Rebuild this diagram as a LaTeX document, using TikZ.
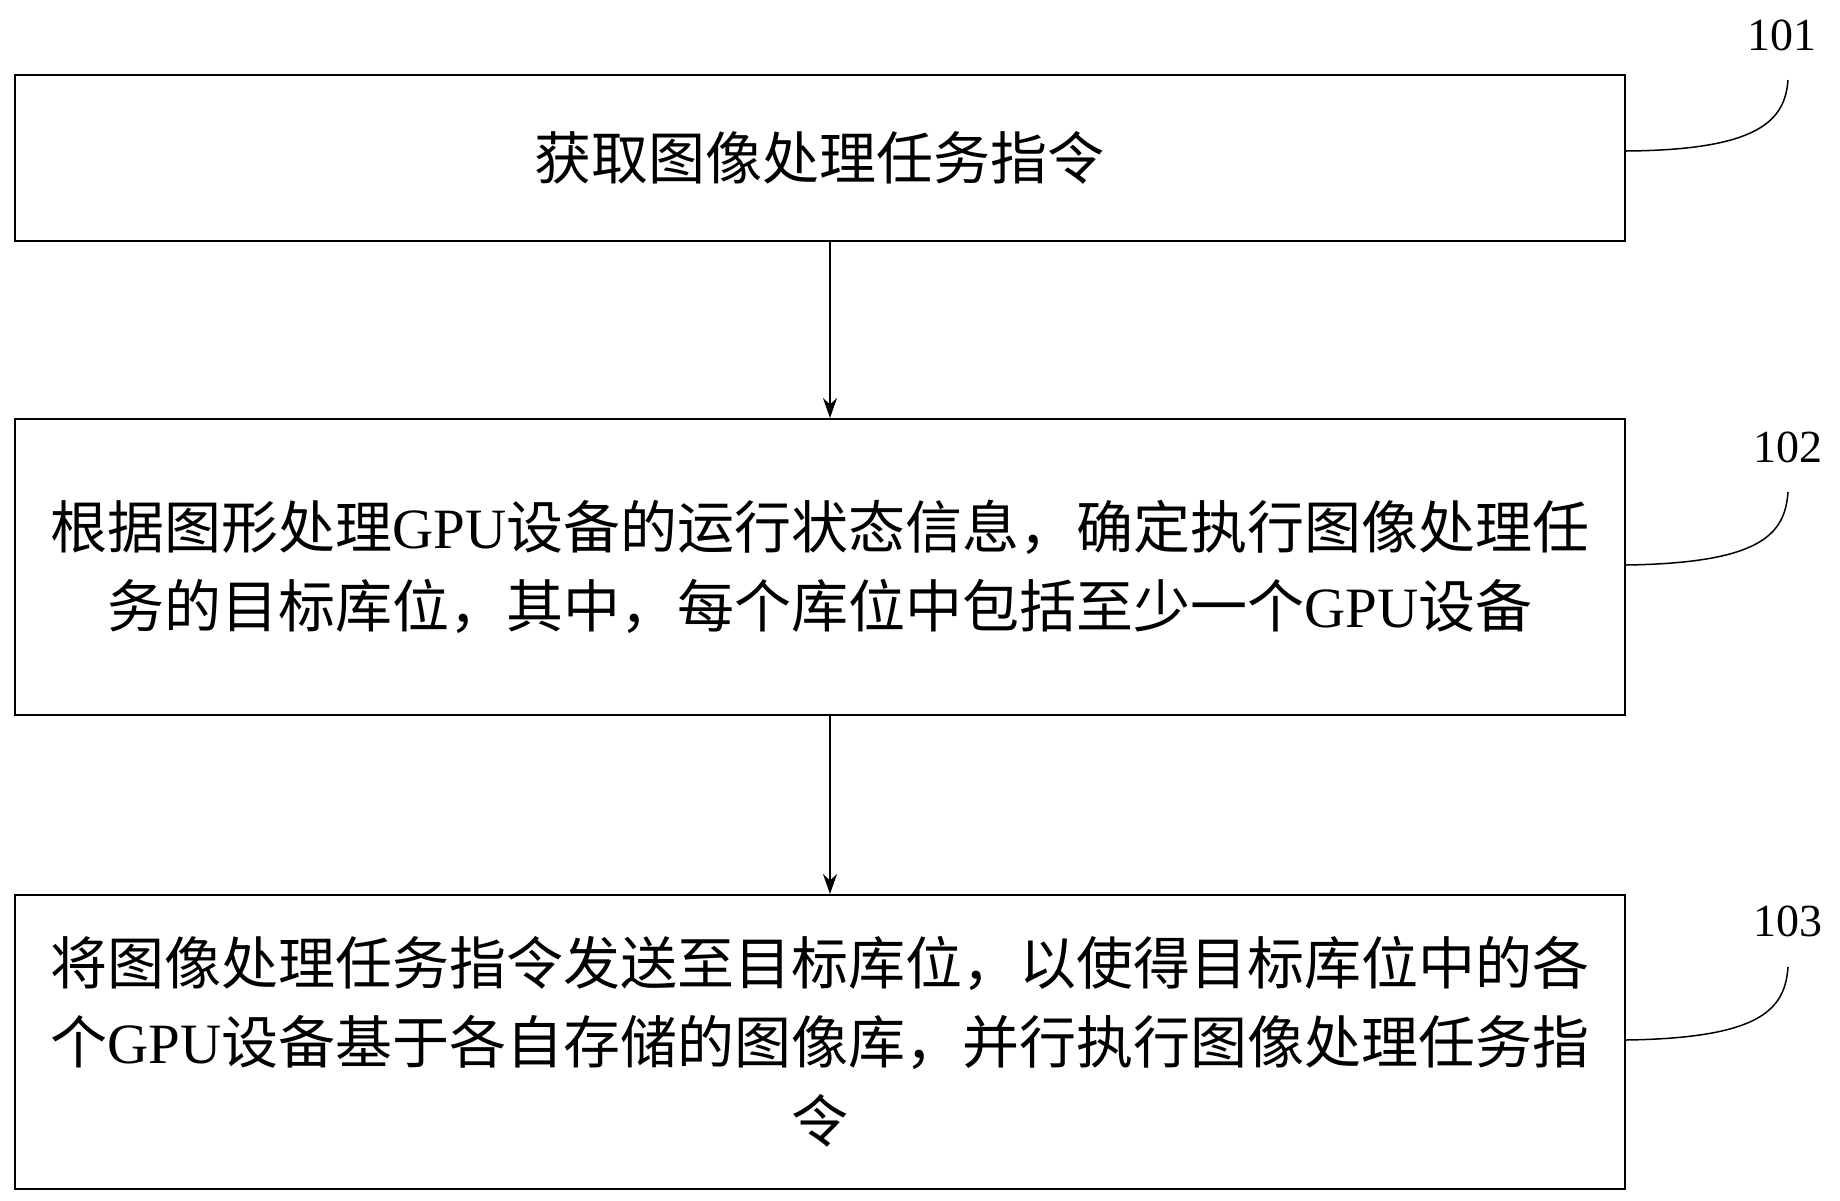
\documentclass[tikz,border=0pt]{standalone}
\usepackage{fontspec}
\setmainfont{Liberation Serif}
\newfontfamily\cjk{Noto Sans CJK SC}
\usetikzlibrary{arrows.meta}
\newcommand{\G}{{\fontspec{Liberation Serif}GPU}}
\begin{document}
\begin{tikzpicture}[x=1pt,y=-1pt,
  stepbox/.style={draw,line width=1.5pt,minimum width=1610pt,anchor=north west,align=center,font=\cjk\fontsize{57}{79}\selectfont,inner sep=0pt},
  lab/.style={font=\fontsize{46}{50}\selectfont},
  lead/.style={line width=1.5pt},
  arr/.style={line width=1.2pt,-{Stealth[length=20pt,width=14pt]}}]
\useasboundingbox (0,0) rectangle (1840,1200);
\node[stepbox,minimum height=166pt] (b1) at (14,74) {获取图像处理任务指令};
\node[stepbox,minimum height=296pt] (b2) at (14,418) {根据图形处理\G 设备的运行状态信息，确定执行图像处理任\\务的目标库位，其中，每个库位中包括至少一个\G 设备};
\node[stepbox,minimum height=294pt] (b3) at (14,894) {将图像处理任务指令发送至目标库位，以使得目标库位中的各\\个\G 设备基于各自存储的图像库，并行执行图像处理任务指\\令};
\node[lab] (l1) at (1782,35) {101};
\node[lab] (l2) at (1788,447) {102};
\node[lab] (l3) at (1788,921) {103};
\coordinate (a1) at (830,240); \coordinate (a2) at (830,418);
\coordinate (a3) at (830,714); \coordinate (a4) at (830,894);
\draw[arr] (a1) -- (a2);
\draw[arr] (a3) -- (a4);
\draw[lead] (1626,151) .. controls (1760,150) and (1785,120) .. (1788,80);
\draw[lead] (1626,565) .. controls (1760,563) and (1785,535) .. (1788,492);
\draw[lead] (1626,1040) .. controls (1760,1038) and (1785,1010) .. (1788,967);
\end{tikzpicture}
\end{document}
